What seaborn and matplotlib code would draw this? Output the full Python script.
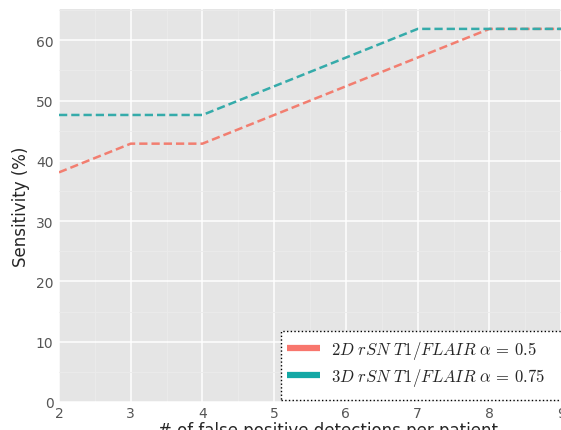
import pandas as pd
import matplotlib.pyplot as plt
import seaborn as sns
from matplotlib.lines import Line2D
from matplotlib.patches import Rectangle

fp_per_patient = [2, 3, 4, 5, 6, 7, 8, 9]
sens_2d = [38.1, 42.86, 42.86, 47.62, 52.38, 57.14, 61.9, 61.9]
sens_3d = [47.62, 47.62, 47.62, 52.38, 57.14, 61.9, 61.9, 61.9]
labels = [r"$2D\ rSN\ T1/FLAIR\ \alpha\,=\,0.5$",
          r"$3D\ rSN\ T1/FLAIR\ \alpha\,=\,0.75$"]
line_colors = ["#F27E70", "#35ABAA"]
legend_colors = ["#F8766D", "#13A8A5"]

df = pd.concat([
    pd.DataFrame({"fp": fp_per_patient, "sens": sens_2d, "model": labels[0]}),
    pd.DataFrame({"fp": fp_per_patient, "sens": sens_3d, "model": labels[1]}),
])

sns.set_style("darkgrid", {"axes.facecolor": "#E5E5E5", "grid.color": "white"})
plt.rcParams["mathtext.fontset"] = "cm"

fig = plt.figure(figsize=(5.61, 4.31), dpi=100)
ax = fig.add_axes([59 / 561, 28 / 431, 538 / 561, 393 / 431])

sns.lineplot(data=df, x="fp", y="sens", hue="model", palette=line_colors,
             linewidth=1.8, ax=ax, legend=False)
for line in ax.get_lines():
    line.set_dashes((3.3, 1.6))

ax.set_xlim(2, 9.5)
ax.set_ylim(0, 65.2)
ax.set_xticks(fp_per_patient)
ax.set_yticks([0, 10, 20, 30, 40, 50, 60])
ax.set_xticks([2.5, 3.5, 4.5, 5.5, 6.5, 7.5, 8.5], minor=True)
ax.set_yticks([5, 15, 25, 35, 45, 55, 65], minor=True)
ax.grid(which="major", color="white", linewidth=1.1)
ax.grid(which="minor", color="#EBEBEB", linewidth=0.6)
ax.tick_params(axis="both", which="major", length=3, color="#555555",
               labelcolor="#555555", labelsize=10, pad=1)
ax.tick_params(axis="x", which="major", pad=0)
ax.tick_params(which="minor", length=0)
for s in ax.spines.values():
    s.set_visible(False)

ax.set_xlabel("# of false positive detections per patient", fontsize=12, labelpad=0.5)
ax.set_ylabel("Sensitivity (%)", fontsize=12)

# legend box drawn separately (dotted, runs past the right edge)
box = Rectangle((281 / 561, 30 / 431), 0.6, 69 / 431, transform=fig.transFigure,
                facecolor="white", edgecolor="black", linestyle=":",
                linewidth=1, zorder=9, clip_on=False)
fig.patches.append(box)

handles = [Line2D([], [], color=c, linewidth=4.5, solid_capstyle="butt")
           for c in legend_colors]
leg = fig.legend(handles, labels, loc="upper left",
                 bbox_to_anchor=(287 / 561, 1 - 340 / 431),
                 fontsize=12, frameon=False, handlelength=1.95,
                 handletextpad=0.7, borderpad=0, borderaxespad=0,
                 labelspacing=0.3)
leg.set_zorder(10)

plt.savefig("out.png", dpi=100)
plt.close()
